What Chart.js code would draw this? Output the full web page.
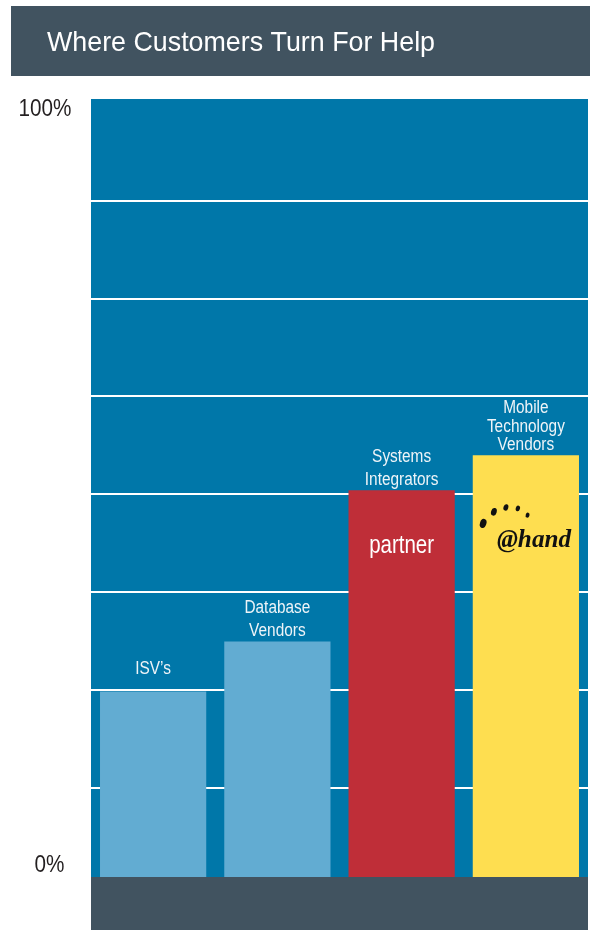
<!DOCTYPE html>
<html>
<head>
<meta charset="utf-8">
<script src="https://cdn.jsdelivr.net/npm/chart.js@4"></script>
<style>
  html, body { margin: 0; padding: 0; background: #fff; }
  #wrap { width: 590px; height: 930px; }
</style>
</head>
<body>
<div id="wrap"><canvas id="mycanvas" width="590" height="930"></canvas></div>
<script>
var chartTitle = 'Where Customers Turn For Help';
var categories = ['ISV\u2019s', 'Database Vendors', 'Systems Integrators', 'Mobile Technology Vendors'];
var labelLines = [['ISV\u2019s'], ['Database', 'Vendors'], ['Systems', 'Integrators'], ['Mobile', 'Technology', 'Vendors']];
var shares = [24.8, 31.2, 50.5, 55];
var tickTop = '100%';
var tickBottom = '0%';
var insideText = ['', '', 'partner', '@hand'];

// axis range (0 sits just under the bottom band)
var yMin = 1.1;
var yMax = 100.5;
var gridStep = 12.5;

// condensed look: Liberation Sans squeezed sideways
var sans = '"Liberation Sans", Arial, sans-serif';

function drawText(ctx, text, x, y, font, color, align, stretch) {
  ctx.save();
  ctx.font = font;
  ctx.fillStyle = color;
  ctx.textAlign = 'left';
  ctx.textBaseline = 'alphabetic';
  var w = ctx.measureText(text).width * stretch;
  var left = x;
  if (align === 'center') left = x - w / 2;
  if (align === 'right') left = x - w;
  ctx.translate(left, y);
  ctx.scale(stretch, 1);
  ctx.fillText(text, 0, 0);
  ctx.restore();
}

var decor = {
  id: 'decor',
  beforeDraw: function(chart) {
    var ctx = chart.ctx, a = chart.chartArea;
    ctx.save();
    ctx.fillStyle = '#ffffff';
    ctx.fillRect(0, 0, chart.width, chart.height);
    // header band
    ctx.fillStyle = '#415360';
    ctx.fillRect(11, 6, chart.width - 11, 70);
    ctx.font = '28px ' + sans;
    var tw = ctx.measureText(chartTitle).width;
    ctx.restore();
    drawText(ctx, chartTitle, 47, 51, '28px ' + sans, '#ffffff', 'left', 388 / tw);
    ctx.save();
    // plot background
    ctx.fillStyle = '#0077a9';
    ctx.fillRect(a.left, a.top, a.right - a.left, a.bottom - a.top);
    ctx.restore();
  },
  afterDatasetsDraw: function(chart) {
    var ctx = chart.ctx;
    var meta = chart.getDatasetMeta(0);
    meta.data.forEach(function(bar, i) {
      var lines = labelLines[i];
      var lh = lines.length > 2 ? 18.5 : 23;
      var base = bar.y - (lines.length === 1 ? 18 : 5);
      for (var j = 0; j < lines.length; j++) {
        var yy = base - (lines.length - 1 - j) * lh;
        drawText(ctx, lines[j], bar.x, yy, '17.5px ' + sans, '#eef4f8', 'center', 0.88);
      }
      if (insideText[i] === 'partner') {
        drawText(ctx, insideText[i], bar.x, bar.y + 63, '25px ' + sans, '#ffffff', 'center', 0.82);
      }
      if (insideText[i] === '@hand') {
        ctx.save();
        ctx.fillStyle = '#111111';
        var dots = [[-42.7, 68.3, 3.2, 4.7], [-32, 56.7, 2.8, 3.9], [-20, 52.3, 2.4, 3.3], [-8, 53.3, 2.1, 2.9], [1.7, 60, 1.9, 2.6]];
        dots.forEach(function(d) {
          ctx.beginPath();
          ctx.ellipse(bar.x + d[0], bar.y + d[1], d[2], d[3], 0.3, 0, Math.PI * 2);
          ctx.fill();
        });
        ctx.restore();
        drawText(ctx, insideText[i], bar.x - 29, bar.y + 92, 'bold italic 26px "Liberation Serif", "DejaVu Serif", serif', '#111111', 'left', 0.97);
      }
    });
  },
  afterDraw: function(chart) {
    var ctx = chart.ctx, a = chart.chartArea;
    ctx.save();
    ctx.fillStyle = '#415360';
    ctx.fillRect(a.left, a.bottom, a.right - a.left, chart.height - a.bottom);
    ctx.restore();
    drawText(ctx, tickTop, 45, a.top + 17, '23px ' + sans, '#231f20', 'center', 0.9);
    drawText(ctx, tickBottom, 49.5, a.bottom - 5, '23px ' + sans, '#231f20', 'center', 0.9);
  }
};

var ctx = document.getElementById('mycanvas');

var chart = new Chart(ctx, {
  type: 'bar',
  data: {
    labels: categories,
    datasets: [{
      data: shares,
      backgroundColor: ['#62acd2', '#62acd2', '#bf2e38', '#fede50'],
      borderWidth: 0,
      barPercentage: 0.855,
      categoryPercentage: 1
    }]
  },
  options: {
    responsive: false,
    animation: false,
    events: [],
    layout: { padding: { left: 91, right: 2, top: 99, bottom: 53 } },
    plugins: {
      legend: { display: false },
      tooltip: { enabled: false },
      title: { display: false }
    },
    scales: {
      x: { display: false },
      y: {
        min: yMin,
        max: yMax,
        z: 1,
        border: { display: false },
        ticks: { display: false, stepSize: gridStep },
        grid: {
          drawTicks: false,
          lineWidth: 2,
          color: function(c) {
            var v = c.tick ? c.tick.value : 0;
            var onStep = Math.abs(v / gridStep - Math.round(v / gridStep)) < 1e-6;
            return (onStep && v > yMin && v < yMax) ? '#ffffff' : 'rgba(0,0,0,0)';
          }
        }
      }
    }
  },
  plugins: [decor]
});
</script>
</body>
</html>
